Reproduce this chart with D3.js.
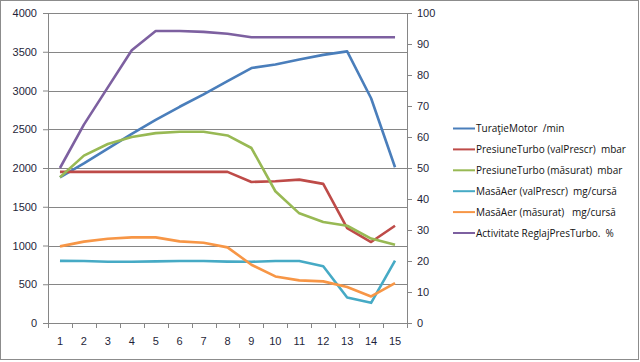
<!DOCTYPE html>
<html>
<head>
<meta charset="utf-8">
<script src="https://cdn.jsdelivr.net/npm/d3@7"></script>
<style>
  body { margin: 0; background: #fff; }
  svg { display: block; font-family: "Open Sans", "DejaVu Sans", sans-serif; }
  .axis text { fill: #1f1f3a; font-size: 11px; }
  .axis path, .axis line { stroke: #868686; }
  .legend text { white-space: pre; }
</style>
</head>
<body>
<div class="chart"></div>
<script>
const W = 640, H = 362;
const margin = {top: 13, right: 233, bottom: 39, left: 48};
const width = 407 - margin.left, height = 323 - margin.top;

// data
const categories = d3.range(1, 16);
const turatieMotor = [1880, 2060, 2250, 2440, 2620, 2790, 2950, 3120, 3290, 3335, 3400, 3460, 3505, 2900, 2010];
const presTurboPrescr = [1950, 1950, 1950, 1950, 1950, 1950, 1950, 1950, 1820, 1830, 1850, 1795, 1225, 1045, 1255];
const presTurboMasurat = [1880, 2160, 2310, 2400, 2450, 2468, 2468, 2420, 2258, 1700, 1415, 1303, 1255, 1090, 1010];
const masaAerPrescr = [802, 800, 790, 790, 795, 800, 800, 792, 790, 800, 800, 732, 330, 260, 805];
const masaAerMasurat = [989, 1050, 1088, 1105, 1105, 1053, 1036, 976, 752, 601, 550, 537, 464, 343, 516];
const activitateReglaj = [50, 64, 76, 88, 94.2, 94.2, 93.9, 93.3, 92.2, 92.2, 92.2, 92.2, 92.2, 92.2, 92.2];
const leftTicks = d3.range(0, 4001, 500);
const rightTicks = d3.range(0, 101, 10);

const series = [
  {name: "TuraţieMotor  /min", values: turatieMotor, color: "#4a7ebb", axis: "left"},
  {name: "PresiuneTurbo (valPrescr)  mbar", values: presTurboPrescr, color: "#be4b48", axis: "left"},
  {name: "PresiuneTurbo (măsurat)  mbar", values: presTurboMasurat, color: "#98b954", axis: "left"},
  {name: "MasăAer (valPrescr)  mg/cursă", values: masaAerPrescr, color: "#46aac5", axis: "left"},
  {name: "MasăAer (măsurat)   mg/cursă", values: masaAerMasurat, color: "#f79646", axis: "left"},
  {name: "Activitate ReglajPresTurbo.  %", values: activitateReglaj, color: "#7d60a0", axis: "right"}
];

const svg = d3.select('.chart')
  .append('svg')
  .attr('width', W)
  .attr('height', H);

// outer frame
svg.append('rect')
  .attr('x', 0.5).attr('y', 0.5)
  .attr('width', W - 2).attr('height', H - 3)
  .attr('fill', '#fff')
  .attr('stroke', '#8c8c8c');

const g = svg.append('g')
  .attr('transform', `translate(${margin.left},${margin.top})`);

const x = d3.scaleBand().domain(categories).range([0, width]);
const yLeft = d3.scaleLinear().domain([0, 4000]).range([height, 0]);
const yRight = d3.scaleLinear().domain([0, 100]).range([height, 0]);

// gridlines
g.append('g')
  .selectAll('line')
  .data(leftTicks.slice(1))
  .join('line')
  .attr('x1', 0).attr('x2', width)
  .attr('y1', d => Math.round(yLeft(d)) + 0.5)
  .attr('y2', d => Math.round(yLeft(d)) + 0.5)
  .attr('stroke', '#868686');

// axes
const xAxis = d3.axisBottom(x).tickSize(0).tickPadding(14);
const xg = g.append('g')
  .attr('class', 'axis x-axis')
  .attr('transform', `translate(0,${height})`)
  .call(xAxis);
xg.select('.domain').attr('d', `M-5,0.5H${width}`);
xg.selectAll('.sep')
  .data(categories.concat([16]))
  .join('line')
  .attr('class', 'sep')
  .attr('x1', (d, i) => Math.round(i * x.bandwidth()) + 0.5)
  .attr('x2', (d, i) => Math.round(i * x.bandwidth()) + 0.5)
  .attr('y1', 0).attr('y2', 5)
  .attr('stroke', '#868686');

const ygl = g.append('g')
  .attr('class', 'axis y-axis')
  .call(d3.axisLeft(yLeft).tickValues(leftTicks).tickFormat(d3.format('d'))
    .tickSize(5).tickSizeOuter(0));
ygl.selectAll('text').attr('x', -11);

const ygr = g.append('g')
  .attr('class', 'axis y2-axis')
  .attr('transform', `translate(${width},0)`)
  .call(d3.axisRight(yRight).tickValues(rightTicks).tickFormat(d3.format('d'))
    .tickSize(5).tickSizeOuter(0));
ygr.selectAll('text').attr('x', 10);

// lines
series.forEach(s => {
  const yS = s.axis === "left" ? yLeft : yRight;
  const line = d3.line()
    .x((d, i) => x(categories[i]) + x.bandwidth() / 2)
    .y(d => yS(d));
  g.append('path')
    .datum(s.values)
    .attr('fill', 'none')
    .attr('stroke', s.color)
    .attr('stroke-width', 2.6)
    .attr('stroke-linejoin', 'round')
    .attr('d', line);
});

// legend
const legend = svg.append('g')
  .attr('class', 'legend')
  .attr('transform', 'translate(453,128.5)');
const items = legend.selectAll('g')
  .data(series)
  .join('g')
  .attr('transform', (d, i) => `translate(0,${i * 20.9})`);
items.append('line')
  .attr('x1', 0).attr('x2', 22)
  .attr('stroke', d => d.color)
  .attr('stroke-width', 2);
items.append('text')
  .attr('x', 23)
  .attr('dy', '0.35em')
  .attr('font-size', 10)
  .attr('fill', '#111')
  .text(d => d.name);
</script>
</body>
</html>
